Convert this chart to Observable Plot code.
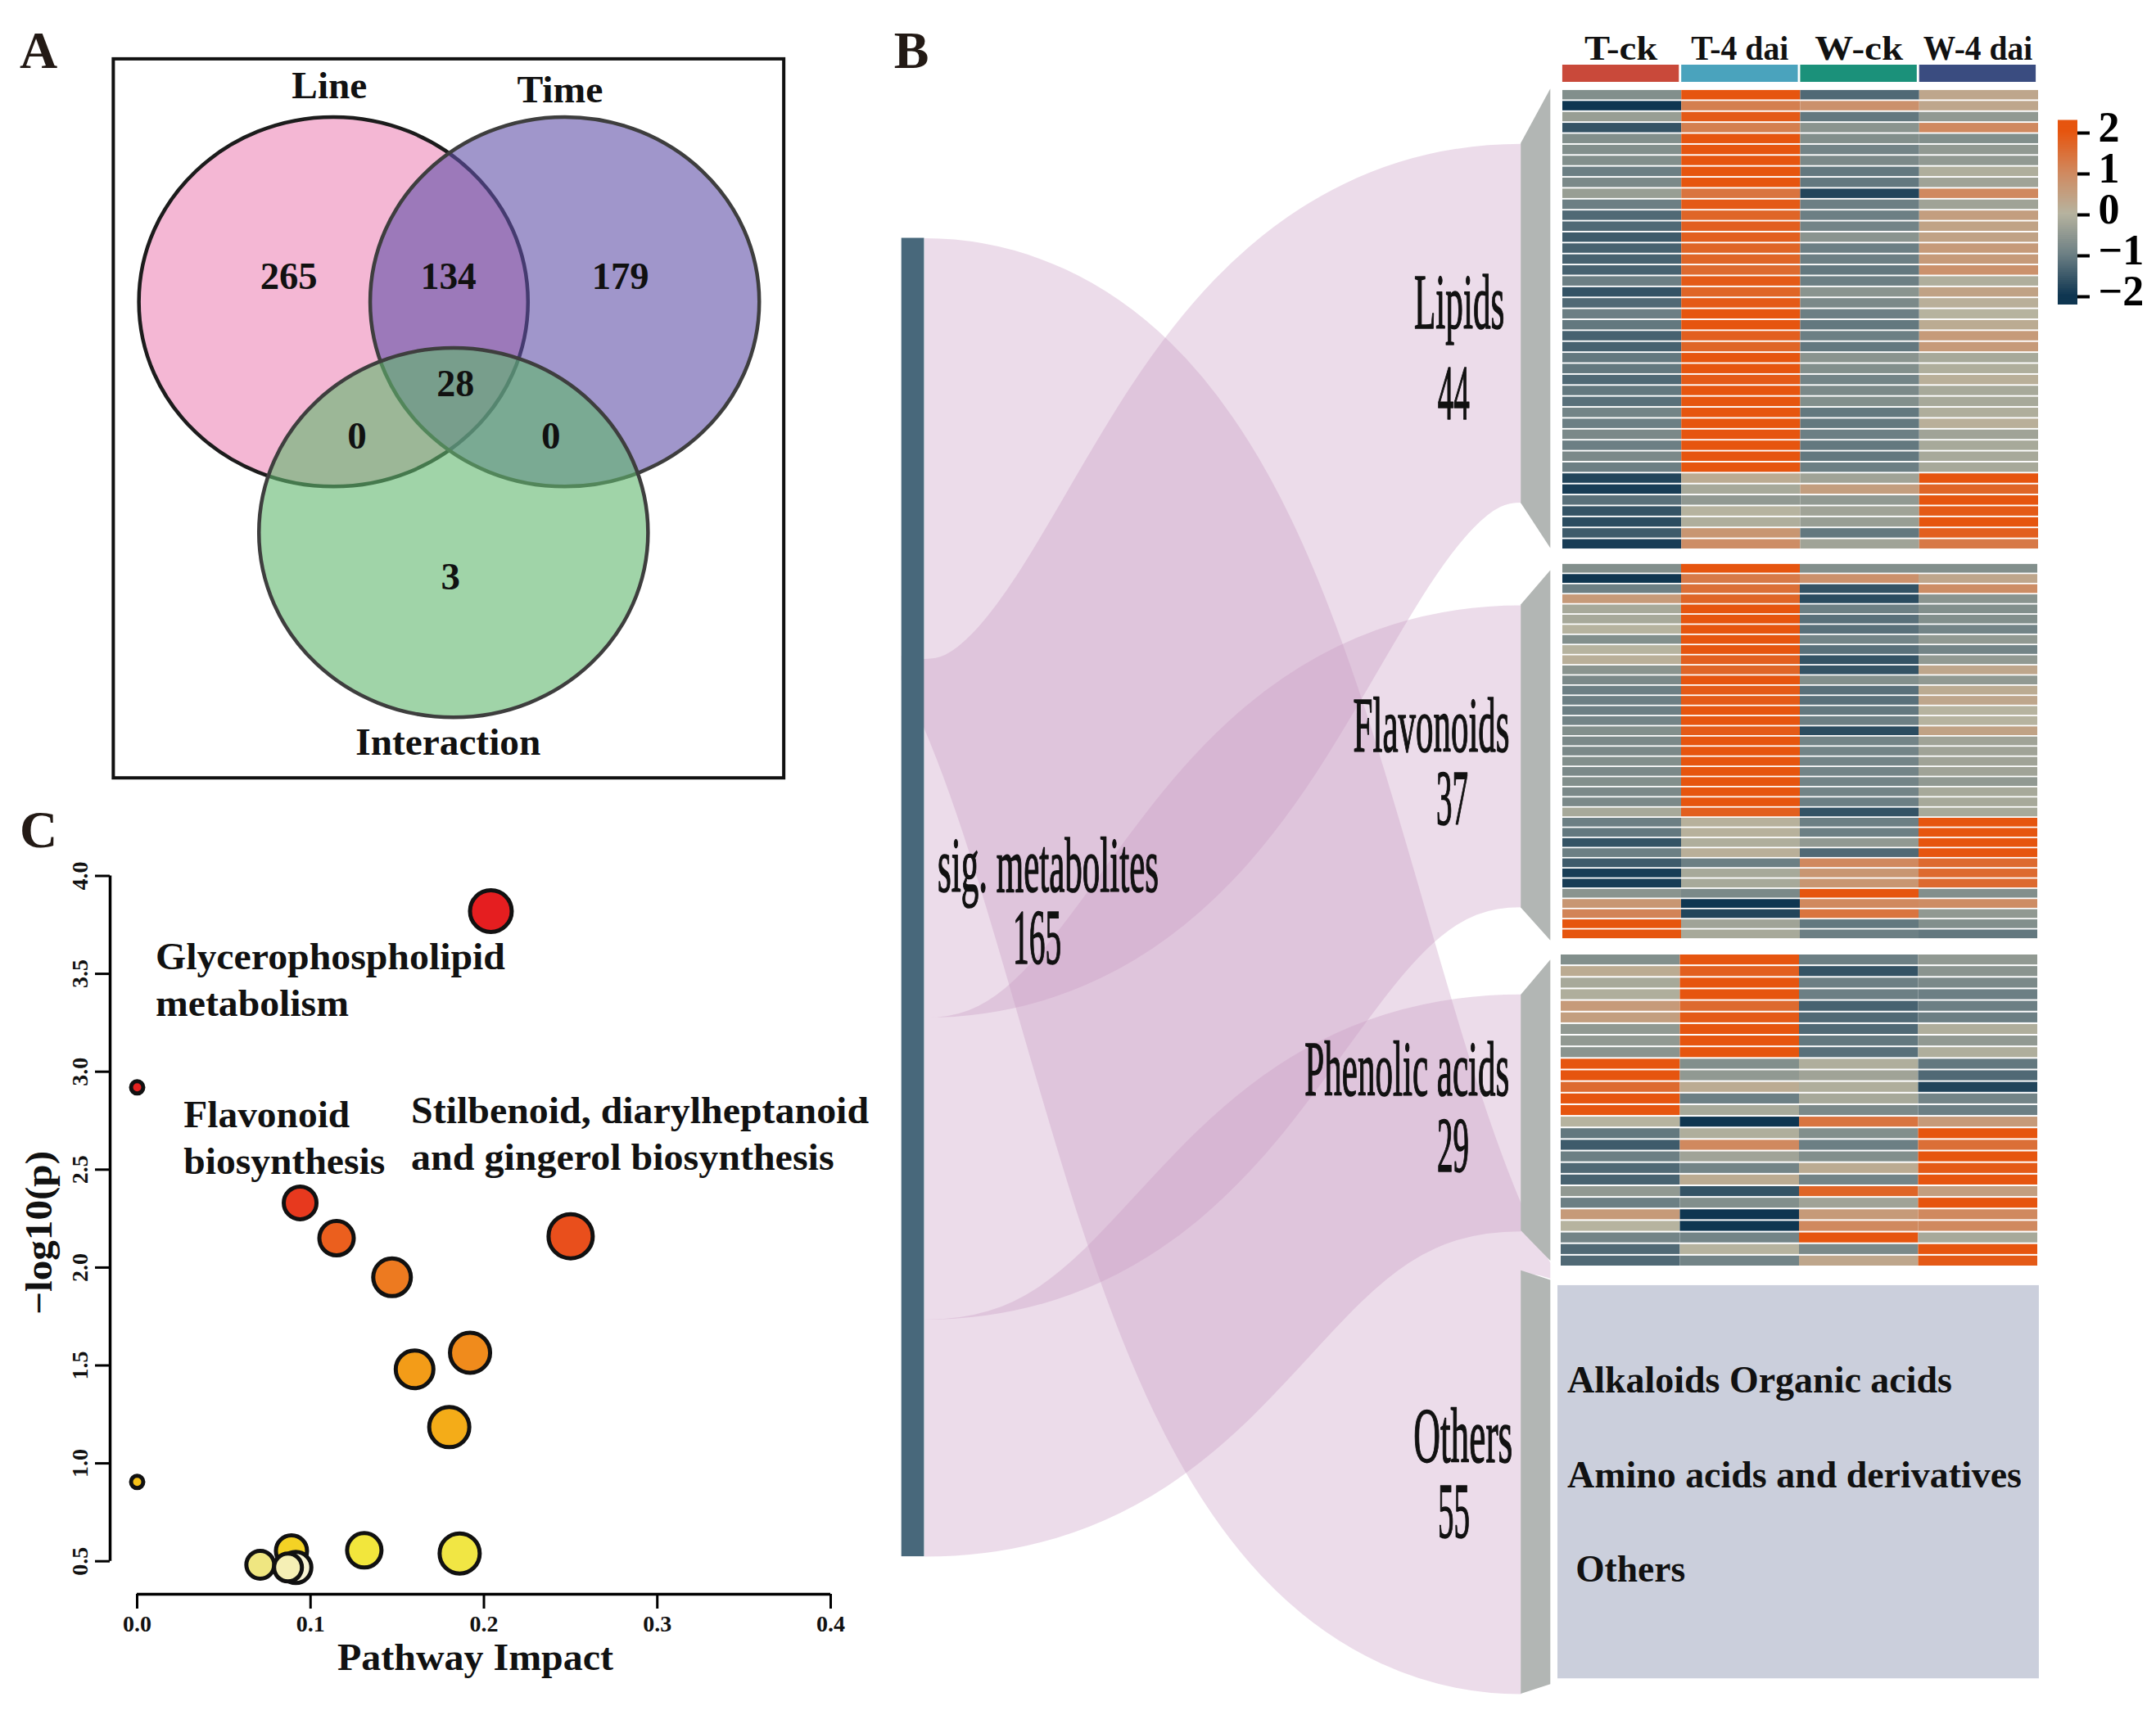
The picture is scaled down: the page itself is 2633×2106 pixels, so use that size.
<!DOCTYPE html>
<html>
<head>
<meta charset="utf-8">
<script src="https://cdn.jsdelivr.net/npm/d3@7"></script>
<script src="https://cdn.jsdelivr.net/npm/@observablehq/plot@0.6"></script>
<style>
html,body{margin:0;padding:0;background:#fff;}
#page{position:relative;width:2633px;height:2106px;overflow:hidden;background:#fff;}
#page svg{position:absolute;display:block;max-width:none;}
</style>
</head>
<body>
<div id="page"></div>
<script>
const SERIF = "'Liberation Serif','Times New Roman',serif";

// ---------- Panel A: Venn ----------
const vennSets = ["Line", "Time", "Interaction"];
const vennFills = ["#ed87b7", "#6150a8", "#61b76e"];
const vennStrokes = ["#1c1c1c", "#3e3e3e", "#3e3e3e"];
const vennCx = [242.2, 410.4, 329.5];
const vennCy = [219.2, 219.2, 387.1];
const vennTitleX = [239.3, 407, 325.6];
const vennTitleY = [62.6, 65.5, 539.7];
const vennCounts = ["265", "134", "179", "28", "0", "0", "3"];
const vennCountX = [209.7, 325.9, 450.9, 330.9, 259.4, 400.4, 327.4];
const vennCountY = [201, 201, 201, 279, 317, 317, 419.5];

// ---------- Panel B: flows ----------
const classes = ["Lipids", "Flavonoids", "Phenolic acids", "Others"];
const classCounts = ["44", "37", "29", "55"];
const flowLeftTop = [479, 740, 959.6, 173];
const flowLeftBottom = [740, 959.6, 1132, 479];
const flowRightTop = [104, 439.7, 723.5, 926];
const flowRightBottom = [365.7, 660, 895, 1232];
const chevronOuterTop = [64.4, 414.7, 698, 931];
const chevronOuterBottom = [398.7, 684, 917, 1225];
const chevronInnerTop = [104, 439.7, 723.5, 924];
const classNameX = [1061, 1040.7, 1023, 1063.7];
const classNameY = [219.9, 527.8, 778, 1044.6];
const classCountX = [1056.9, 1055.8, 1056.5, 1057];
const classCountY = [286, 581, 833.6, 1099.7];
const otherItems = ["Alkaloids Organic acids", "Amino acids and derivatives", "Others"];
const otherItemX = [1139.5, 1139.5, 1145.6];
const otherItemY = [1004, 1073, 1141.5];

// ---------- Panel B: heatmaps (T-ck, T-4 dai, W-ck, W-4 dai) ----------
const conditions = ["T-ck", "T-4 dai", "W-ck", "W-4 dai"];
const conditionColors = ["#c9493a", "#4aa3bd", "#1b917a", "#3a4c80"];
const lipidRows = [
[-.7,2,-1.3,.3],[-2,1.2,.8,.3],[-.4,1.9,-1.1,-.5],[-1.6,1.2,-.6,1],[-.7,2,-.7,-.7],[-.7,2,-.9,-.5],
[-.7,2,-.8,-.5],[-1,2,-1.1,-.1],[-.8,2,-1.1,-.3],[-.4,1.4,-1.8,1],[-1,1.9,-1,-.3],[-1.3,1.7,-1,.5],
[-1.3,1.8,-.9,.4],[-1.5,1.8,-.6,.4],[-1.4,1.7,-1,.6],[-1.4,1.7,-1,.6],[-1.4,1.6,-1.1,.8],[-1,1.9,-1,-.1],
[-1.6,1.7,-.6,.4],[-1.3,1.9,-.8,.1],[-1,2,-1,0],[-1.1,2,-1.1,.2],[-1.4,1.8,-1,.6],[-1.4,1.7,-1.1,.6],
[-1.1,2,-.6,-.2],[-1.1,2,-.7,-.1],[-1.3,1.9,-.9,.1],[-1.1,2,-.8,-.2],[-1.2,2,-.7,-.2],[-.9,2,-1.1,-.1],
[-1,2,-1.1,.1],[-.8,2,-1,-.3],[-1,2,-1.1,-.2],[-.8,2,-1.1,-.2],[-1,2,-1,-.2],[-1.8,.2,-.3,2],
[-1.9,-.2,.5,1.7],[-1.2,-.5,-.5,2],[-1.6,0,-.3,1.9],[-1.7,-.1,-.4,2],[-1.5,.7,-1.1,1.8],[-1.9,.9,-.3,1.3]];
const flavonoidRows = [
[-.7,2,-.7,-.7],[-2,1.3,.8,.3],[-1,1.5,-1.6,.9],[.6,1.7,-1.7,-.6],[-.2,2,-1,-.7],[-.2,2,-1.2,-.7],
[0,2,-1.2,-.9],[-.7,2,-.9,-.5],[0,2,-1.2,-.9],[.1,1.8,-1.6,-.5],[-.6,1.7,-1.6,.3],[-.8,2,-.7,-.5],
[-1,1.9,-1.2,.2],[-1,1.9,-1.2,.3],[-1,2,-1.1,0],[-.9,2,-1,0],[-.7,1.9,-1.7,.4],[-.8,2,-.9,-.3],
[-.8,2,-.9,-.3],[-.7,2,-.9,-.3],[-.8,2,-.9,-.3],[-.7,2,-.9,-.5],[-.8,2,-.9,-.2],[-.8,2,-1,-.2],
[-.2,1.8,-1.6,-.2],[-1,.05,-1,2],[-1.1,.05,-1,2],[-1.6,-.1,-.5,2],[-1,.1,-1.3,2],[-1.5,-1,1,1.6],
[-1.9,-.2,.7,1.6],[-1.9,-.2,.7,1.6],[-.6,-.8,2,-.7],[.7,-2,1,.9],[1.1,-1.8,1.4,-.5],[2,-.3,-1.1,-.7],[2,-.2,-1,-1.1]];
const phenolicRows = [
[-.7,2,-1,-.5],[.2,1.8,-1.6,-.6],[-.2,2,-1,-.8],[-.1,2,-1,-1],[.6,1.6,-1.4,-1],[.5,1.9,-1.3,-1],
[-.5,2,-1.3,-.1],[-.5,2,-1.1,-.5],[-.6,2,-1.2,-.1],[2,-.7,-.1,-1.1],[2,-.5,-.3,-1.3],[1.6,.2,-.1,-1.8],
[2,-1,-.2,-.9],[2,-.2,-.8,-1],[0,-2,1.4,.6],[-1.1,-.1,-.7,2],[-1.5,1,-1,1.5],[-1,-.3,-.7,2],
[-1.3,-.9,.2,1.9],[-1.4,.2,-.9,2],[-.5,-1.6,1.7,.5],[-1,-.7,-.3,2],[.6,-2,.6,1],[0,-2,1,1],
[-.9,-.9,2,-.2],[-1.3,0,-.8,2],[-1.3,-.9,.3,1.9]];
const heatStops = [-2, -1, 0, 1, 2];
const heatColors = ["#0f3651", "#6c7f84", "#b6b39f", "#d0895f", "#e6550f"];
const legendTicks = [2, 1, 0, -1, -2];

// ---------- Panel C: pathway bubbles ----------
const pathImpact = [0.204, 0, 0.094, 0.115, 0.147, 0.25, 0.192, 0.16, 0.18, 0, 0.089, 0.131, 0.186, 0.071, 0.087, 0.0915];
const pathLogP   = [3.82, 2.92, 2.33, 2.15, 1.95, 2.16, 1.565, 1.48, 1.185, 0.905, 0.553, 0.556, 0.54, 0.482, 0.468, 0.468];
const pathSize   = [25.5, 7.5, 20, 21, 23, 27, 24.5, 23, 24.5, 7.5, 19, 21, 24.5, 17, 17, 19];
const pathHeat   = [1, .98, .88, .72, .62, .78, .55, .48, .42, .34, .26, .16, .15, .08, .03, 0];
const heatRamp   = ["#f8f4d4", "#efe681", "#f2e633", "#f6c118", "#f39c18", "#ed7a20", "#e94f1c", "#e51e20"];
const heatRampAt = [0, .08, .17, .34, .48, .62, .78, 1];
const pathLabels = ["Glycerophospholipid", "metabolism", "Flavonoid", "biosynthesis", "Stilbenoid, diarylheptanoid", "and gingerol biosynthesis"];
const pathLabelX = [.0106, .0106, .0268, .0268, .158, .158];
const pathLabelY = [3.586, 3.345, 2.78, 2.54, 2.80, 2.56];

// ---------- Text widths as seen in the figure ----------
const tallWidths = {"Lipids":110.5,"44":39,"Flavonoids":191,"37":39,"Phenolic acids":250,"29":39,"Others":121,"55":39,"sig. metabolites":270,"165":59};
const textWidths = {"Line":92,"Time":105,"Interaction":226,"265":70,"134":68,"179":70,"28":46,
  "T-ck":89,"T-4 dai":119,"W-ck":108,"W-4 dai":133.5,
  "Alkaloids Organic acids":470,"Amino acids and derivatives":555,"Others":134,
  "Glycerophospholipid":427,"metabolism":236,"Flavonoid":203,"biosynthesis":246,
  "Stilbenoid, diarylheptanoid":559,"and gingerol biosynthesis":516.5,
  "Pathway Impact":337,"−log10(p)":200};

const page = document.getElementById("page");
function place(svg, left, top) {
  svg.style.left = left + "px";
  svg.style.top = top + "px";
  page.appendChild(svg);
  svg.querySelectorAll("text").forEach(t => {
    const size = parseFloat(getComputedStyle(t).fontSize);
    const w = (size >= 90 ? tallWidths : textWidths)[t.textContent];
    if (w) { t.setAttribute("textLength", w); t.setAttribute("lengthAdjust", "spacingAndGlyphs"); }
  });
}

const ellipseSymbol = {
  draw(ctx, size) {
    const r = Math.sqrt(size / Math.PI), a = 1.0285 * r, b = 0.977 * r, k = 0.5523;
    ctx.moveTo(a, 0);
    ctx.bezierCurveTo(a, k * b, k * a, b, 0, b);
    ctx.bezierCurveTo(-k * a, b, -a, k * b, -a, 0);
    ctx.bezierCurveTo(-a, -k * b, -k * a, -b, 0, -b);
    ctx.bezierCurveTo(k * a, -b, a, -k * b, a, 0);
    ctx.closePath();
  }
};

// Tables built from the arrays
const figScale = 2633 / 1568;
const flowMarks = classes.map((c, i) => Plot.line(
  [
    {x: 672, y: (flowLeftTop[i] + flowLeftBottom[i]) / 2},
    {x: 1106, y: (flowRightTop[i] + flowRightBottom[i]) / 2}
  ],
  {x: "x", y: "y", curve: "bump-x", stroke: "#c99bc3", strokeOpacity: .35, strokeLinecap: "butt", strokeLinejoin: "miter",
   strokeWidth: (flowLeftBottom[i] - flowLeftTop[i]) * figScale}
));
const chevrons = classes.flatMap((c, i) => [
  {c, x: 1106, y1: chevronInnerTop[i], y2: flowRightBottom[i]},
  {c, x: 1127.5, y1: chevronOuterTop[i], y2: chevronOuterBottom[i]}
]);
const serifText = {fontFamily: SERIF, fill: "#111", lineAnchor: "middle"};
const tallText = {fontSize: 96, stroke: "#111", strokeWidth: 1.6, ...serifText};

// Base figure: flows + labels + Venn, in figure units
place(Plot.plot({
  width: 2633, height: 2106, margin: 0,
  style: {background: "transparent", fontFamily: SERIF},
  x: {domain: [0, 1568], range: [0, 2633], axis: null},
  y: {domain: [0, 1254], range: [0, 2106], axis: null},
  marks: [
    ...flowMarks,
    Plot.rect([0], {x1: 575, x2: 655.5, y1: 173, y2: 1132, fill: "#fff"}),
    Plot.rect([0], {x1: 1127.5, x2: 1568, y1: 0, y2: 1254, fill: "#fff"}),
    Plot.rect([0], {x1: 655.5, x2: 672, y1: 173, y2: 1132, fill: "#48687b"}),
    Plot.areaY(chevrons, {x: "x", y1: "y1", y2: "y2", z: "c", fill: "#b2b6b4"}),

    Plot.rect([0], {x1: 82.4, x2: 570, y1: 42.8, y2: 565.8, fill: "none", stroke: "#111", strokeWidth: 4}),
    ...vennSets.map((s, i) => Plot.dot([s], {
      x: () => vennCx[i], y: () => vennCy[i], r: 231, symbol: ellipseSymbol,
      fill: vennFills[i], fillOpacity: .6, stroke: vennStrokes[i], strokeWidth: 4.5
    })),
    Plot.text(vennSets, {x: (d, i) => vennTitleX[i], y: (d, i) => vennTitleY[i], text: d => d, fontSize: 46, fontWeight: "bold", ...serifText}),
    Plot.text(vennCounts, {x: (d, i) => vennCountX[i], y: (d, i) => vennCountY[i], text: d => d, fontSize: 47, fontWeight: "bold", ...serifText}),

    Plot.rect([0], {x1: 1132.7, x2: 1482.8, y1: 934.8, y2: 1220.8, fill: "#cbcfdc"}),
    Plot.text(otherItems, {x: (d, i) => otherItemX[i], y: (d, i) => otherItemY[i], text: d => d, textAnchor: "start", fontSize: 46, fontWeight: "bold", ...serifText}),

    Plot.text(classes, {x: (d, i) => classNameX[i], y: (d, i) => classNameY[i], text: d => d, ...tallText}),
    Plot.text(classCounts, {x: (d, i) => classCountX[i], y: (d, i) => classCountY[i], text: d => d, ...tallText}),
    Plot.text(["sig. metabolites"], {x: 762, y: 630, text: d => d, ...tallText}),
    Plot.text(["165"], {x: 754, y: 682, text: d => d, ...tallText}),

    Plot.text(["A", "B", "C"], {x: [27.8, 662.6, 27.8], y: [37, 37, 604], text: d => d, fontSize: 64, fontWeight: "bold", fontFamily: SERIF, fill: "#231a15", lineAnchor: "middle"})
  ]
}), 0, 0);

// Heatmap header
place(Plot.plot({
  width: 640, height: 100, marginTop: 79, marginBottom: 0, marginLeft: 0, marginRight: 56,
  style: {background: "transparent", fontFamily: SERIF},
  x: {type: "band", domain: conditions, padding: .02, round: false, axis: null},
  color: {domain: conditions, range: conditionColors},
  marks: [
    Plot.cell(conditions, {x: d => d, fill: d => d}),
    Plot.text(conditions, {x: d => d, frameAnchor: "top", dy: -20, text: d => d, fontSize: 42, fontWeight: "bold", ...serifText})
  ]
}), 1905, 0);

// Heatmap blocks
function heatBlock(rows, left, top, w, h) {
  const cells = rows.flatMap((r, i) => r.map((v, j) => ({row: i, cond: conditions[j], v})));
  place(Plot.plot({
    width: w, height: h, margin: 0,
    style: {background: "transparent"},
    x: {type: "band", domain: conditions, padding: 0, round: false, axis: null},
    y: {type: "band", domain: d3.range(rows.length), paddingInner: .14, paddingOuter: .07, round: false, axis: null},
    color: {type: "linear", domain: heatStops, range: heatColors},
    marks: [Plot.cell(cells, {x: "cond", y: "row", fill: "v"})]
  }), left, top);
}
heatBlock(lipidRows, 1908, 109, 581, 562);
heatBlock(flavonoidRows, 1908, 688, 580, 459);
heatBlock(phenolicRows, 1906, 1165, 582, 382);

// Colour legend
const legendLabel = d => String(d).replace("-", "−");
place(Plot.plot({
  width: 120, height: 260, marginLeft: 0, marginRight: 96, marginTop: 0, marginBottom: 0,
  style: {background: "transparent", fontFamily: SERIF, overflow: "visible"},
  y: {domain: [2, -2], range: [32, 232]},
  color: {type: "linear", domain: heatStops, range: heatColors, clamp: true},
  marks: [
    Plot.rect(d3.range(-2.2, 2.3, .05), {y1: d => d, y2: d => d + .06, fill: d => d}),
    Plot.tickY(legendTicks, {y: d => d, dx: 15, insetLeft: 9, stroke: "#000", strokeWidth: 4}),
    Plot.axisY({anchor: "right", ticks: legendTicks, tickSize: 0, tickPadding: 25, dy: -6, label: null,
      tickFormat: legendLabel, fontSize: 52, fontWeight: "bold", fill: "#000"})
  ]
}), 2513, 130);

// Panel C
const pathways = pathImpact.map((x, i) => ({x, y: pathLogP[i], r: pathSize[i], heat: pathHeat[i]}));
place(Plot.plot({
  width: 1080, height: 1086, marginLeft: 134, marginBottom: 159, marginTop: 0, marginRight: 0,
  style: {background: "transparent", fontFamily: SERIF},
  x: {domain: [0, .4], range: [167, 1014]},
  y: {domain: [.5, 4], range: [886.7, 49.5]},
  r: {type: "identity"},
  color: {type: "linear", domain: heatRampAt, range: heatRamp},
  marks: [
    Plot.ruleX([0], {y1: .5, y2: 4, dx: -33, stroke: "#000", strokeWidth: 3.5}),
    Plot.ruleY([.5], {x1: 0, x2: .4, dy: 40.3, stroke: "#000", strokeWidth: 3.5}),
    Plot.axisX({ticks: [0, .1, .2, .3, .4], tickFormat: ".1f", tickSize: 18, tickPadding: 8, label: null, fontSize: 28, fontWeight: "bold", stroke: "#000", strokeWidth: 3, fill: "#111"}),
    Plot.axisY({ticks: [.5, 1, 1.5, 2, 2.5, 3, 3.5, 4], tickFormat: ".1f", tickSize: 18, tickPadding: 10, tickRotate: -90, label: null, fontSize: 28, fontWeight: "bold", stroke: "#000", strokeWidth: 3, fill: "#111"}),
    Plot.dot(pathways, {x: "x", y: "y", r: "r", fill: "heat", stroke: "#111", strokeWidth: 5}),
    Plot.text(pathLabels, {x: (d, i) => pathLabelX[i], y: (d, i) => pathLabelY[i], text: d => d, textAnchor: "start", fontSize: 46, fontWeight: "bold", ...serifText}),
    Plot.text(["Pathway Impact"], {frameAnchor: "bottom", dx: -27, dy: 77.6, text: d => d, fontSize: 46, fontWeight: "bold", ...serifText}),
    Plot.text(["−log10(p)"], {frameAnchor: "left", textAnchor: "middle", rotate: -90, dx: -86, dy: 22, text: d => d, fontSize: 46, fontWeight: "bold", ...serifText})
  ]
}), 0, 1020);
</script>
</body>
</html>
